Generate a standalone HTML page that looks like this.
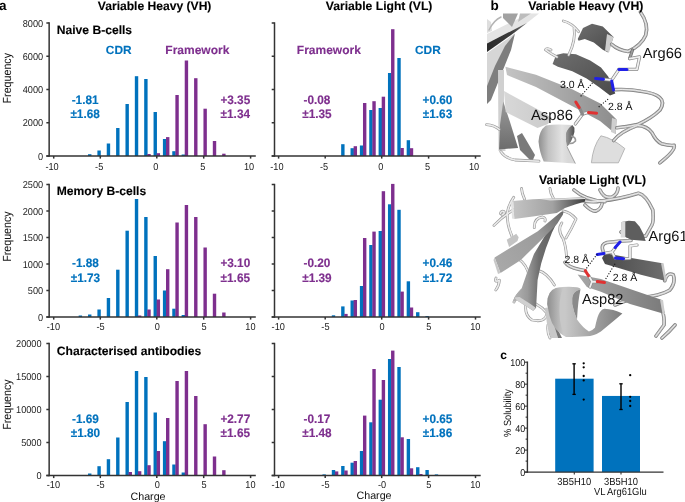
<!DOCTYPE html>
<html><head><meta charset="utf-8"><title>Figure</title>
<style>html,body{margin:0;padding:0;background:#fff;width:685px;height:502px;overflow:hidden}
svg text{font-family:"Liberation Sans", sans-serif;text-rendering:geometricPrecision} svg{will-change:transform}</style></head>
<body>
<svg width="685" height="502" viewBox="0 0 685 502" style="position:absolute;left:0;top:0">
<g font-family='"Liberation Sans", sans-serif'>
<rect x="88.03" y="154.20" width="3.40" height="1.80" fill="#0072BD"/>
<rect x="97.39" y="150.50" width="3.40" height="5.50" fill="#0072BD"/>
<rect x="106.75" y="143.50" width="3.40" height="12.50" fill="#0072BD"/>
<rect x="116.11" y="128.00" width="3.40" height="28.00" fill="#0072BD"/>
<rect x="125.47" y="104.00" width="3.40" height="52.00" fill="#0072BD"/>
<rect x="134.83" y="76.20" width="3.40" height="79.80" fill="#0072BD"/>
<rect x="144.19" y="79.00" width="3.40" height="77.00" fill="#0072BD"/>
<rect x="153.55" y="112.00" width="3.40" height="44.00" fill="#0072BD"/>
<rect x="162.91" y="139.00" width="3.40" height="17.00" fill="#0072BD"/>
<rect x="172.27" y="151.20" width="3.40" height="4.80" fill="#0072BD"/>
<rect x="181.63" y="154.50" width="3.40" height="1.50" fill="#0072BD"/>
<rect x="147.29" y="154.00" width="3.40" height="2.00" fill="#7E2F8E"/>
<rect x="156.65" y="153.20" width="3.40" height="2.80" fill="#7E2F8E"/>
<rect x="166.01" y="137.10" width="3.40" height="18.90" fill="#7E2F8E"/>
<rect x="175.37" y="95.00" width="3.40" height="61.00" fill="#7E2F8E"/>
<rect x="184.73" y="60.50" width="3.40" height="95.50" fill="#7E2F8E"/>
<rect x="194.09" y="78.20" width="3.40" height="77.80" fill="#7E2F8E"/>
<rect x="203.45" y="108.70" width="3.40" height="47.30" fill="#7E2F8E"/>
<rect x="212.81" y="141.00" width="3.40" height="15.00" fill="#7E2F8E"/>
<rect x="222.17" y="153.70" width="3.40" height="2.30" fill="#7E2F8E"/>
<line x1="46.35" y1="156.0" x2="255.8" y2="156.0" stroke="#333333" stroke-width="1.5"/>
<line x1="49.15" y1="22.3" x2="49.15" y2="156.75" stroke="#333333" stroke-width="1.5"/>
<line x1="46.35" y1="156.0" x2="49.15" y2="156.0" stroke="#333333" stroke-width="1.5"/>
<text transform="translate(43.2,159.7) scale(1,1.08)" font-size="9.2" font-weight="normal" fill="#222" text-anchor="end" >0</text>
<line x1="46.35" y1="122.75" x2="49.15" y2="122.75" stroke="#333333" stroke-width="1.5"/>
<text transform="translate(43.2,126.45) scale(1,1.08)" font-size="9.2" font-weight="normal" fill="#222" text-anchor="end" >2000</text>
<line x1="46.35" y1="89.5" x2="49.15" y2="89.5" stroke="#333333" stroke-width="1.5"/>
<text transform="translate(43.2,93.2) scale(1,1.08)" font-size="9.2" font-weight="normal" fill="#222" text-anchor="end" >4000</text>
<line x1="46.35" y1="56.25" x2="49.15" y2="56.25" stroke="#333333" stroke-width="1.5"/>
<text transform="translate(43.2,59.95) scale(1,1.08)" font-size="9.2" font-weight="normal" fill="#222" text-anchor="end" >6000</text>
<line x1="46.35" y1="23.0" x2="49.15" y2="23.0" stroke="#333333" stroke-width="1.5"/>
<text transform="translate(43.2,26.7) scale(1,1.08)" font-size="9.2" font-weight="normal" fill="#222" text-anchor="end" >8000</text>
<line x1="53.7" y1="156.0" x2="53.7" y2="158.6" stroke="#333333" stroke-width="1.5"/>
<text transform="translate(52.05,169.5) scale(1,1.09)" font-size="9.2" font-weight="normal" fill="#222" text-anchor="middle" >-10</text>
<line x1="100.3" y1="156.0" x2="100.3" y2="158.6" stroke="#333333" stroke-width="1.5"/>
<text transform="translate(99.2,169.5) scale(1,1.09)" font-size="9.2" font-weight="normal" fill="#222" text-anchor="middle" >-5</text>
<line x1="156.8" y1="156.0" x2="156.8" y2="158.6" stroke="#333333" stroke-width="1.5"/>
<text transform="translate(155.9,169.5) scale(1,1.09)" font-size="9.2" font-weight="normal" fill="#222" text-anchor="middle" >0</text>
<line x1="203.7" y1="156.0" x2="203.7" y2="158.6" stroke="#333333" stroke-width="1.5"/>
<text transform="translate(202.7,169.5) scale(1,1.09)" font-size="9.2" font-weight="normal" fill="#222" text-anchor="middle" >5</text>
<line x1="250.6" y1="156.0" x2="250.6" y2="158.6" stroke="#333333" stroke-width="1.5"/>
<text transform="translate(249.1,169.5) scale(1,1.09)" font-size="9.2" font-weight="normal" fill="#222" text-anchor="middle" >10</text>
<text transform="translate(85.1,103.9) scale(1,1.04)" font-size="11.8" font-weight="bold" fill="#0072BD" text-anchor="middle" stroke="#0072BD" stroke-width="0.15">-1.81</text>
<text transform="translate(85.1,118.0) scale(1,1.04)" font-size="11.8" font-weight="bold" fill="#0072BD" text-anchor="middle" stroke="#0072BD" stroke-width="0.15">±1.68</text>
<text transform="translate(235.3,103.9) scale(1,1.04)" font-size="11.8" font-weight="bold" fill="#7E2F8E" text-anchor="middle" stroke="#7E2F8E" stroke-width="0.15">+3.35</text>
<text transform="translate(235.3,118.0) scale(1,1.04)" font-size="11.8" font-weight="bold" fill="#7E2F8E" text-anchor="middle" stroke="#7E2F8E" stroke-width="0.15">±1.34</text>
<rect x="341.16" y="144.20" width="3.40" height="11.80" fill="#0072BD"/>
<rect x="350.52" y="148.20" width="3.40" height="7.80" fill="#0072BD"/>
<rect x="359.88" y="145.50" width="3.40" height="10.50" fill="#0072BD"/>
<rect x="369.24" y="110.00" width="3.40" height="46.00" fill="#0072BD"/>
<rect x="378.60" y="108.00" width="3.40" height="48.00" fill="#0072BD"/>
<rect x="387.96" y="73.00" width="3.40" height="83.00" fill="#0072BD"/>
<rect x="397.32" y="58.00" width="3.40" height="98.00" fill="#0072BD"/>
<rect x="406.68" y="140.20" width="3.40" height="15.80" fill="#0072BD"/>
<rect x="353.62" y="146.20" width="3.40" height="9.80" fill="#7E2F8E"/>
<rect x="362.98" y="103.00" width="3.40" height="53.00" fill="#7E2F8E"/>
<rect x="372.34" y="101.20" width="3.40" height="54.80" fill="#7E2F8E"/>
<rect x="381.70" y="96.70" width="3.40" height="59.30" fill="#7E2F8E"/>
<rect x="391.06" y="29.20" width="3.40" height="126.80" fill="#7E2F8E"/>
<rect x="400.42" y="148.00" width="3.40" height="8.00" fill="#7E2F8E"/>
<rect x="409.78" y="148.20" width="3.40" height="7.80" fill="#7E2F8E"/>
<line x1="271.7" y1="156.0" x2="480.70000000000005" y2="156.0" stroke="#333333" stroke-width="1.5"/>
<line x1="274.5" y1="22.3" x2="274.5" y2="156.75" stroke="#333333" stroke-width="1.5"/>
<line x1="271.7" y1="156.0" x2="274.5" y2="156.0" stroke="#333333" stroke-width="1.5"/>
<line x1="271.7" y1="122.75" x2="274.5" y2="122.75" stroke="#333333" stroke-width="1.5"/>
<line x1="271.7" y1="89.5" x2="274.5" y2="89.5" stroke="#333333" stroke-width="1.5"/>
<line x1="271.7" y1="56.25" x2="274.5" y2="56.25" stroke="#333333" stroke-width="1.5"/>
<line x1="271.7" y1="23.0" x2="274.5" y2="23.0" stroke="#333333" stroke-width="1.5"/>
<line x1="278.6" y1="156.0" x2="278.6" y2="158.6" stroke="#333333" stroke-width="1.5"/>
<text transform="translate(276.95,169.5) scale(1,1.09)" font-size="9.2" font-weight="normal" fill="#222" text-anchor="middle" >-10</text>
<line x1="325.2" y1="156.0" x2="325.2" y2="158.6" stroke="#333333" stroke-width="1.5"/>
<text transform="translate(324.1,169.5) scale(1,1.09)" font-size="9.2" font-weight="normal" fill="#222" text-anchor="middle" >-5</text>
<line x1="381.70000000000005" y1="156.0" x2="381.70000000000005" y2="158.6" stroke="#333333" stroke-width="1.5"/>
<text transform="translate(380.8,169.5) scale(1,1.09)" font-size="9.2" font-weight="normal" fill="#222" text-anchor="middle" >0</text>
<line x1="428.6" y1="156.0" x2="428.6" y2="158.6" stroke="#333333" stroke-width="1.5"/>
<text transform="translate(427.6,169.5) scale(1,1.09)" font-size="9.2" font-weight="normal" fill="#222" text-anchor="middle" >5</text>
<line x1="475.5" y1="156.0" x2="475.5" y2="158.6" stroke="#333333" stroke-width="1.5"/>
<text transform="translate(474.0,169.5) scale(1,1.09)" font-size="9.2" font-weight="normal" fill="#222" text-anchor="middle" >10</text>
<text transform="translate(316.9,103.9) scale(1,1.04)" font-size="11.8" font-weight="bold" fill="#7E2F8E" text-anchor="middle" stroke="#7E2F8E" stroke-width="0.15">-0.08</text>
<text transform="translate(316.9,118.0) scale(1,1.04)" font-size="11.8" font-weight="bold" fill="#7E2F8E" text-anchor="middle" stroke="#7E2F8E" stroke-width="0.15">±1.35</text>
<text transform="translate(437.5,103.9) scale(1,1.04)" font-size="11.8" font-weight="bold" fill="#0072BD" text-anchor="middle" stroke="#0072BD" stroke-width="0.15">+0.60</text>
<text transform="translate(437.5,118.0) scale(1,1.04)" font-size="11.8" font-weight="bold" fill="#0072BD" text-anchor="middle" stroke="#0072BD" stroke-width="0.15">±1.63</text>
<text x="56.8" y="33.5" font-size="12.1" font-weight="bold" fill="#000" text-anchor="start" stroke="#000" stroke-width="0.12">Naive B-cells</text>
<text transform="translate(11.4,78.2) rotate(-90) scale(1,1.1)" font-size="10.7" font-weight="normal" fill="#111" text-anchor="middle" >Frequency</text>
<rect x="78.67" y="315.50" width="3.40" height="1.50" fill="#0072BD"/>
<rect x="88.03" y="314.50" width="3.40" height="2.50" fill="#0072BD"/>
<rect x="97.39" y="309.50" width="3.40" height="7.50" fill="#0072BD"/>
<rect x="106.75" y="298.00" width="3.40" height="19.00" fill="#0072BD"/>
<rect x="116.11" y="269.70" width="3.40" height="47.30" fill="#0072BD"/>
<rect x="125.47" y="230.70" width="3.40" height="86.30" fill="#0072BD"/>
<rect x="134.83" y="199.00" width="3.40" height="118.00" fill="#0072BD"/>
<rect x="144.19" y="217.00" width="3.40" height="100.00" fill="#0072BD"/>
<rect x="153.55" y="256.00" width="3.40" height="61.00" fill="#0072BD"/>
<rect x="162.91" y="290.50" width="3.40" height="26.50" fill="#0072BD"/>
<rect x="172.27" y="308.70" width="3.40" height="8.30" fill="#0072BD"/>
<rect x="181.63" y="315.00" width="3.40" height="2.00" fill="#0072BD"/>
<rect x="137.93" y="315.50" width="3.40" height="1.50" fill="#7E2F8E"/>
<rect x="147.29" y="309.50" width="3.40" height="7.50" fill="#7E2F8E"/>
<rect x="156.65" y="299.50" width="3.40" height="17.50" fill="#7E2F8E"/>
<rect x="166.01" y="269.20" width="3.40" height="47.80" fill="#7E2F8E"/>
<rect x="175.37" y="222.50" width="3.40" height="94.50" fill="#7E2F8E"/>
<rect x="184.73" y="205.00" width="3.40" height="112.00" fill="#7E2F8E"/>
<rect x="194.09" y="217.00" width="3.40" height="100.00" fill="#7E2F8E"/>
<rect x="203.45" y="247.50" width="3.40" height="69.50" fill="#7E2F8E"/>
<rect x="212.81" y="293.70" width="3.40" height="23.30" fill="#7E2F8E"/>
<rect x="222.17" y="312.50" width="3.40" height="4.50" fill="#7E2F8E"/>
<line x1="46.35" y1="317.0" x2="255.8" y2="317.0" stroke="#333333" stroke-width="1.5"/>
<line x1="49.15" y1="183.8" x2="49.15" y2="317.75" stroke="#333333" stroke-width="1.5"/>
<line x1="46.35" y1="317.0" x2="49.15" y2="317.0" stroke="#333333" stroke-width="1.5"/>
<text transform="translate(43.2,320.7) scale(1,1.08)" font-size="9.2" font-weight="normal" fill="#222" text-anchor="end" >0</text>
<line x1="46.35" y1="290.5" x2="49.15" y2="290.5" stroke="#333333" stroke-width="1.5"/>
<text transform="translate(43.2,294.2) scale(1,1.08)" font-size="9.2" font-weight="normal" fill="#222" text-anchor="end" >500</text>
<line x1="46.35" y1="264.0" x2="49.15" y2="264.0" stroke="#333333" stroke-width="1.5"/>
<text transform="translate(43.2,267.7) scale(1,1.08)" font-size="9.2" font-weight="normal" fill="#222" text-anchor="end" >1000</text>
<line x1="46.35" y1="237.5" x2="49.15" y2="237.5" stroke="#333333" stroke-width="1.5"/>
<text transform="translate(43.2,241.2) scale(1,1.08)" font-size="9.2" font-weight="normal" fill="#222" text-anchor="end" >1500</text>
<line x1="46.35" y1="211.0" x2="49.15" y2="211.0" stroke="#333333" stroke-width="1.5"/>
<text transform="translate(43.2,214.7) scale(1,1.08)" font-size="9.2" font-weight="normal" fill="#222" text-anchor="end" >2000</text>
<line x1="46.35" y1="184.5" x2="49.15" y2="184.5" stroke="#333333" stroke-width="1.5"/>
<text transform="translate(43.2,188.2) scale(1,1.08)" font-size="9.2" font-weight="normal" fill="#222" text-anchor="end" >2500</text>
<line x1="53.7" y1="317.0" x2="53.7" y2="319.6" stroke="#333333" stroke-width="1.5"/>
<text transform="translate(53.35,329.6) scale(1,1.09)" font-size="9.2" font-weight="normal" fill="#222" text-anchor="middle" >-10</text>
<line x1="100.3" y1="317.0" x2="100.3" y2="319.6" stroke="#333333" stroke-width="1.5"/>
<text transform="translate(100.5,329.6) scale(1,1.09)" font-size="9.2" font-weight="normal" fill="#222" text-anchor="middle" >-5</text>
<line x1="156.8" y1="317.0" x2="156.8" y2="319.6" stroke="#333333" stroke-width="1.5"/>
<text transform="translate(157.2,329.6) scale(1,1.09)" font-size="9.2" font-weight="normal" fill="#222" text-anchor="middle" >0</text>
<line x1="203.7" y1="317.0" x2="203.7" y2="319.6" stroke="#333333" stroke-width="1.5"/>
<text transform="translate(204.0,329.6) scale(1,1.09)" font-size="9.2" font-weight="normal" fill="#222" text-anchor="middle" >5</text>
<line x1="250.6" y1="317.0" x2="250.6" y2="319.6" stroke="#333333" stroke-width="1.5"/>
<text transform="translate(250.4,329.6) scale(1,1.09)" font-size="9.2" font-weight="normal" fill="#222" text-anchor="middle" >10</text>
<text transform="translate(85.4,267.3) scale(1,1.04)" font-size="11.8" font-weight="bold" fill="#0072BD" text-anchor="middle" stroke="#0072BD" stroke-width="0.15">-1.88</text>
<text transform="translate(85.4,281.7) scale(1,1.04)" font-size="11.8" font-weight="bold" fill="#0072BD" text-anchor="middle" stroke="#0072BD" stroke-width="0.15">±1.73</text>
<text transform="translate(235.3,267.3) scale(1,1.04)" font-size="11.8" font-weight="bold" fill="#7E2F8E" text-anchor="middle" stroke="#7E2F8E" stroke-width="0.15">+3.10</text>
<text transform="translate(235.3,281.7) scale(1,1.04)" font-size="11.8" font-weight="bold" fill="#7E2F8E" text-anchor="middle" stroke="#7E2F8E" stroke-width="0.15">±1.65</text>
<rect x="331.80" y="315.30" width="3.40" height="1.70" fill="#0072BD"/>
<rect x="341.16" y="306.40" width="3.40" height="10.60" fill="#0072BD"/>
<rect x="350.52" y="300.50" width="3.40" height="16.50" fill="#0072BD"/>
<rect x="359.88" y="286.00" width="3.40" height="31.00" fill="#0072BD"/>
<rect x="369.24" y="245.00" width="3.40" height="72.00" fill="#0072BD"/>
<rect x="378.60" y="231.00" width="3.40" height="86.00" fill="#0072BD"/>
<rect x="387.96" y="204.30" width="3.40" height="112.70" fill="#0072BD"/>
<rect x="397.32" y="209.80" width="3.40" height="107.20" fill="#0072BD"/>
<rect x="406.68" y="281.30" width="3.40" height="35.70" fill="#0072BD"/>
<rect x="416.04" y="312.20" width="3.40" height="4.80" fill="#0072BD"/>
<rect x="425.40" y="316.00" width="3.40" height="1.00" fill="#0072BD"/>
<rect x="344.26" y="313.90" width="3.40" height="3.10" fill="#7E2F8E"/>
<rect x="353.62" y="300.00" width="3.40" height="17.00" fill="#7E2F8E"/>
<rect x="362.98" y="238.00" width="3.40" height="79.00" fill="#7E2F8E"/>
<rect x="372.34" y="231.60" width="3.40" height="85.40" fill="#7E2F8E"/>
<rect x="381.70" y="191.20" width="3.40" height="125.80" fill="#7E2F8E"/>
<rect x="391.06" y="183.90" width="3.40" height="133.10" fill="#7E2F8E"/>
<rect x="400.42" y="291.60" width="3.40" height="25.40" fill="#7E2F8E"/>
<rect x="409.78" y="307.50" width="3.40" height="9.50" fill="#7E2F8E"/>
<line x1="271.7" y1="317.0" x2="480.70000000000005" y2="317.0" stroke="#333333" stroke-width="1.5"/>
<line x1="274.5" y1="183.8" x2="274.5" y2="317.75" stroke="#333333" stroke-width="1.5"/>
<line x1="271.7" y1="317.0" x2="274.5" y2="317.0" stroke="#333333" stroke-width="1.5"/>
<line x1="271.7" y1="290.5" x2="274.5" y2="290.5" stroke="#333333" stroke-width="1.5"/>
<line x1="271.7" y1="264.0" x2="274.5" y2="264.0" stroke="#333333" stroke-width="1.5"/>
<line x1="271.7" y1="237.5" x2="274.5" y2="237.5" stroke="#333333" stroke-width="1.5"/>
<line x1="271.7" y1="211.0" x2="274.5" y2="211.0" stroke="#333333" stroke-width="1.5"/>
<line x1="271.7" y1="184.5" x2="274.5" y2="184.5" stroke="#333333" stroke-width="1.5"/>
<line x1="278.6" y1="317.0" x2="278.6" y2="319.6" stroke="#333333" stroke-width="1.5"/>
<text transform="translate(278.25,329.6) scale(1,1.09)" font-size="9.2" font-weight="normal" fill="#222" text-anchor="middle" >-10</text>
<line x1="325.2" y1="317.0" x2="325.2" y2="319.6" stroke="#333333" stroke-width="1.5"/>
<text transform="translate(325.4,329.6) scale(1,1.09)" font-size="9.2" font-weight="normal" fill="#222" text-anchor="middle" >-5</text>
<line x1="381.70000000000005" y1="317.0" x2="381.70000000000005" y2="319.6" stroke="#333333" stroke-width="1.5"/>
<text transform="translate(382.1,329.6) scale(1,1.09)" font-size="9.2" font-weight="normal" fill="#222" text-anchor="middle" >0</text>
<line x1="428.6" y1="317.0" x2="428.6" y2="319.6" stroke="#333333" stroke-width="1.5"/>
<text transform="translate(428.9,329.6) scale(1,1.09)" font-size="9.2" font-weight="normal" fill="#222" text-anchor="middle" >5</text>
<line x1="475.5" y1="317.0" x2="475.5" y2="319.6" stroke="#333333" stroke-width="1.5"/>
<text transform="translate(475.3,329.6) scale(1,1.09)" font-size="9.2" font-weight="normal" fill="#222" text-anchor="middle" >10</text>
<text transform="translate(316.9,267.3) scale(1,1.04)" font-size="11.8" font-weight="bold" fill="#7E2F8E" text-anchor="middle" stroke="#7E2F8E" stroke-width="0.15">-0.20</text>
<text transform="translate(316.9,281.7) scale(1,1.04)" font-size="11.8" font-weight="bold" fill="#7E2F8E" text-anchor="middle" stroke="#7E2F8E" stroke-width="0.15">±1.39</text>
<text transform="translate(437.5,267.3) scale(1,1.04)" font-size="11.8" font-weight="bold" fill="#0072BD" text-anchor="middle" stroke="#0072BD" stroke-width="0.15">+0.46</text>
<text transform="translate(437.5,281.7) scale(1,1.04)" font-size="11.8" font-weight="bold" fill="#0072BD" text-anchor="middle" stroke="#0072BD" stroke-width="0.15">±1.72</text>
<text x="56.8" y="194.7" font-size="12.1" font-weight="bold" fill="#000" text-anchor="start" stroke="#000" stroke-width="0.12">Memory B-cells</text>
<text transform="translate(11.4,236.6) rotate(-90) scale(1,1.1)" font-size="10.7" font-weight="normal" fill="#111" text-anchor="middle" >Frequency</text>
<rect x="88.03" y="473.50" width="3.40" height="2.00" fill="#0072BD"/>
<rect x="97.39" y="466.20" width="3.40" height="9.30" fill="#0072BD"/>
<rect x="106.75" y="459.20" width="3.40" height="16.30" fill="#0072BD"/>
<rect x="116.11" y="437.50" width="3.40" height="38.00" fill="#0072BD"/>
<rect x="125.47" y="402.00" width="3.40" height="73.50" fill="#0072BD"/>
<rect x="134.83" y="371.00" width="3.40" height="104.50" fill="#0072BD"/>
<rect x="144.19" y="377.00" width="3.40" height="98.50" fill="#0072BD"/>
<rect x="153.55" y="412.50" width="3.40" height="63.00" fill="#0072BD"/>
<rect x="162.91" y="441.20" width="3.40" height="34.30" fill="#0072BD"/>
<rect x="172.27" y="464.50" width="3.40" height="11.00" fill="#0072BD"/>
<rect x="181.63" y="472.50" width="3.40" height="3.00" fill="#0072BD"/>
<rect x="128.57" y="472.00" width="3.40" height="3.50" fill="#7E2F8E"/>
<rect x="137.93" y="471.20" width="3.40" height="4.30" fill="#7E2F8E"/>
<rect x="147.29" y="465.20" width="3.40" height="10.30" fill="#7E2F8E"/>
<rect x="156.65" y="451.00" width="3.40" height="24.50" fill="#7E2F8E"/>
<rect x="166.01" y="418.00" width="3.40" height="57.50" fill="#7E2F8E"/>
<rect x="175.37" y="381.00" width="3.40" height="94.50" fill="#7E2F8E"/>
<rect x="184.73" y="371.00" width="3.40" height="104.50" fill="#7E2F8E"/>
<rect x="194.09" y="396.00" width="3.40" height="79.50" fill="#7E2F8E"/>
<rect x="203.45" y="424.20" width="3.40" height="51.30" fill="#7E2F8E"/>
<rect x="212.81" y="456.50" width="3.40" height="19.00" fill="#7E2F8E"/>
<rect x="222.17" y="470.20" width="3.40" height="5.30" fill="#7E2F8E"/>
<line x1="46.35" y1="475.5" x2="255.8" y2="475.5" stroke="#333333" stroke-width="1.5"/>
<line x1="49.15" y1="342.8" x2="49.15" y2="476.25" stroke="#333333" stroke-width="1.5"/>
<line x1="46.35" y1="475.5" x2="49.15" y2="475.5" stroke="#333333" stroke-width="1.5"/>
<text transform="translate(41.6,479.2) scale(1,1.08)" font-size="9.2" font-weight="normal" fill="#222" text-anchor="end" >0</text>
<line x1="46.35" y1="442.5" x2="49.15" y2="442.5" stroke="#333333" stroke-width="1.5"/>
<text transform="translate(41.6,446.2) scale(1,1.08)" font-size="9.2" font-weight="normal" fill="#222" text-anchor="end" >5000</text>
<line x1="46.35" y1="409.5" x2="49.15" y2="409.5" stroke="#333333" stroke-width="1.5"/>
<text transform="translate(41.6,413.2) scale(1,1.08)" font-size="9.2" font-weight="normal" fill="#222" text-anchor="end" >10000</text>
<line x1="46.35" y1="376.5" x2="49.15" y2="376.5" stroke="#333333" stroke-width="1.5"/>
<text transform="translate(41.6,380.2) scale(1,1.08)" font-size="9.2" font-weight="normal" fill="#222" text-anchor="end" >15000</text>
<line x1="46.35" y1="343.5" x2="49.15" y2="343.5" stroke="#333333" stroke-width="1.5"/>
<text transform="translate(41.6,347.2) scale(1,1.08)" font-size="9.2" font-weight="normal" fill="#222" text-anchor="end" >20000</text>
<line x1="53.7" y1="475.5" x2="53.7" y2="478.1" stroke="#333333" stroke-width="1.5"/>
<text transform="translate(53.35,488.0) scale(1,1.09)" font-size="9.2" font-weight="normal" fill="#222" text-anchor="middle" >-10</text>
<line x1="100.3" y1="475.5" x2="100.3" y2="478.1" stroke="#333333" stroke-width="1.5"/>
<text transform="translate(100.5,488.0) scale(1,1.09)" font-size="9.2" font-weight="normal" fill="#222" text-anchor="middle" >-5</text>
<line x1="156.8" y1="475.5" x2="156.8" y2="478.1" stroke="#333333" stroke-width="1.5"/>
<text transform="translate(157.2,488.0) scale(1,1.09)" font-size="9.2" font-weight="normal" fill="#222" text-anchor="middle" >0</text>
<line x1="203.7" y1="475.5" x2="203.7" y2="478.1" stroke="#333333" stroke-width="1.5"/>
<text transform="translate(204.0,488.0) scale(1,1.09)" font-size="9.2" font-weight="normal" fill="#222" text-anchor="middle" >5</text>
<line x1="250.6" y1="475.5" x2="250.6" y2="478.1" stroke="#333333" stroke-width="1.5"/>
<text transform="translate(250.4,488.0) scale(1,1.09)" font-size="9.2" font-weight="normal" fill="#222" text-anchor="middle" >10</text>
<text transform="translate(85.4,422.7) scale(1,1.04)" font-size="11.8" font-weight="bold" fill="#0072BD" text-anchor="middle" stroke="#0072BD" stroke-width="0.15">-1.69</text>
<text transform="translate(85.4,436.8) scale(1,1.04)" font-size="11.8" font-weight="bold" fill="#0072BD" text-anchor="middle" stroke="#0072BD" stroke-width="0.15">±1.80</text>
<text transform="translate(235.3,422.7) scale(1,1.04)" font-size="11.8" font-weight="bold" fill="#7E2F8E" text-anchor="middle" stroke="#7E2F8E" stroke-width="0.15">+2.77</text>
<text transform="translate(235.3,436.8) scale(1,1.04)" font-size="11.8" font-weight="bold" fill="#7E2F8E" text-anchor="middle" stroke="#7E2F8E" stroke-width="0.15">±1.65</text>
<rect x="322.44" y="474.40" width="3.40" height="1.10" fill="#0072BD"/>
<rect x="331.80" y="470.00" width="3.40" height="5.50" fill="#0072BD"/>
<rect x="341.16" y="466.00" width="3.40" height="9.50" fill="#0072BD"/>
<rect x="350.52" y="462.70" width="3.40" height="12.80" fill="#0072BD"/>
<rect x="359.88" y="451.00" width="3.40" height="24.50" fill="#0072BD"/>
<rect x="369.24" y="422.30" width="3.40" height="53.20" fill="#0072BD"/>
<rect x="378.60" y="399.70" width="3.40" height="75.80" fill="#0072BD"/>
<rect x="387.96" y="359.00" width="3.40" height="116.50" fill="#0072BD"/>
<rect x="397.32" y="367.00" width="3.40" height="108.50" fill="#0072BD"/>
<rect x="406.68" y="439.00" width="3.40" height="36.50" fill="#0072BD"/>
<rect x="416.04" y="467.20" width="3.40" height="8.30" fill="#0072BD"/>
<rect x="425.40" y="470.00" width="3.40" height="5.50" fill="#0072BD"/>
<rect x="434.76" y="474.40" width="3.40" height="1.10" fill="#0072BD"/>
<rect x="334.90" y="471.40" width="3.40" height="4.10" fill="#7E2F8E"/>
<rect x="344.26" y="470.50" width="3.40" height="5.00" fill="#7E2F8E"/>
<rect x="353.62" y="461.00" width="3.40" height="14.50" fill="#7E2F8E"/>
<rect x="362.98" y="415.60" width="3.40" height="59.90" fill="#7E2F8E"/>
<rect x="372.34" y="369.00" width="3.40" height="106.50" fill="#7E2F8E"/>
<rect x="381.70" y="380.00" width="3.40" height="95.50" fill="#7E2F8E"/>
<rect x="391.06" y="350.60" width="3.40" height="124.90" fill="#7E2F8E"/>
<rect x="400.42" y="437.30" width="3.40" height="38.20" fill="#7E2F8E"/>
<rect x="409.78" y="468.30" width="3.40" height="7.20" fill="#7E2F8E"/>
<rect x="419.14" y="474.00" width="3.40" height="1.50" fill="#7E2F8E"/>
<line x1="271.7" y1="475.5" x2="480.70000000000005" y2="475.5" stroke="#333333" stroke-width="1.5"/>
<line x1="274.5" y1="342.8" x2="274.5" y2="476.25" stroke="#333333" stroke-width="1.5"/>
<line x1="271.7" y1="475.5" x2="274.5" y2="475.5" stroke="#333333" stroke-width="1.5"/>
<line x1="271.7" y1="442.5" x2="274.5" y2="442.5" stroke="#333333" stroke-width="1.5"/>
<line x1="271.7" y1="409.5" x2="274.5" y2="409.5" stroke="#333333" stroke-width="1.5"/>
<line x1="271.7" y1="376.5" x2="274.5" y2="376.5" stroke="#333333" stroke-width="1.5"/>
<line x1="271.7" y1="343.5" x2="274.5" y2="343.5" stroke="#333333" stroke-width="1.5"/>
<line x1="278.6" y1="475.5" x2="278.6" y2="478.1" stroke="#333333" stroke-width="1.5"/>
<text transform="translate(278.25,488.0) scale(1,1.09)" font-size="9.2" font-weight="normal" fill="#222" text-anchor="middle" >-10</text>
<line x1="325.2" y1="475.5" x2="325.2" y2="478.1" stroke="#333333" stroke-width="1.5"/>
<text transform="translate(325.4,488.0) scale(1,1.09)" font-size="9.2" font-weight="normal" fill="#222" text-anchor="middle" >-5</text>
<line x1="381.70000000000005" y1="475.5" x2="381.70000000000005" y2="478.1" stroke="#333333" stroke-width="1.5"/>
<text transform="translate(382.1,488.0) scale(1,1.09)" font-size="9.2" font-weight="normal" fill="#222" text-anchor="middle" >-0</text>
<line x1="428.6" y1="475.5" x2="428.6" y2="478.1" stroke="#333333" stroke-width="1.5"/>
<text transform="translate(428.9,488.0) scale(1,1.09)" font-size="9.2" font-weight="normal" fill="#222" text-anchor="middle" >5</text>
<line x1="475.5" y1="475.5" x2="475.5" y2="478.1" stroke="#333333" stroke-width="1.5"/>
<text transform="translate(475.3,488.0) scale(1,1.09)" font-size="9.2" font-weight="normal" fill="#222" text-anchor="middle" >10</text>
<text transform="translate(316.9,422.7) scale(1,1.04)" font-size="11.8" font-weight="bold" fill="#7E2F8E" text-anchor="middle" stroke="#7E2F8E" stroke-width="0.15">-0.17</text>
<text transform="translate(316.9,436.8) scale(1,1.04)" font-size="11.8" font-weight="bold" fill="#7E2F8E" text-anchor="middle" stroke="#7E2F8E" stroke-width="0.15">±1.48</text>
<text transform="translate(437.5,422.7) scale(1,1.04)" font-size="11.8" font-weight="bold" fill="#0072BD" text-anchor="middle" stroke="#0072BD" stroke-width="0.15">+0.65</text>
<text transform="translate(437.5,436.8) scale(1,1.04)" font-size="11.8" font-weight="bold" fill="#0072BD" text-anchor="middle" stroke="#0072BD" stroke-width="0.15">±1.86</text>
<text x="56.8" y="354.5" font-size="12.1" font-weight="bold" fill="#000" text-anchor="start" stroke="#000" stroke-width="0.12">Characterised antibodies</text>
<text transform="translate(11.4,404.6) rotate(-90) scale(1,1.1)" font-size="10.7" font-weight="normal" fill="#111" text-anchor="middle" >Frequency</text>
<text x="105.8" y="53.5" font-size="11.9" font-weight="bold" fill="#0072BD" text-anchor="start" stroke="#0072BD" stroke-width="0.12">CDR</text>
<text x="165.3" y="53.5" font-size="12.0" font-weight="bold" fill="#7E2F8E" text-anchor="start" stroke="#7E2F8E" stroke-width="0.12">Framework</text>
<text x="415.0" y="53.5" font-size="11.9" font-weight="bold" fill="#0072BD" text-anchor="start" stroke="#0072BD" stroke-width="0.12">CDR</text>
<text x="296.8" y="53.5" font-size="12.0" font-weight="bold" fill="#7E2F8E" text-anchor="start" stroke="#7E2F8E" stroke-width="0.12">Framework</text>
<text x="148.0" y="499.6" font-size="10.7" font-weight="normal" fill="#111" text-anchor="middle" >Charge</text>
<text x="374.0" y="499.1" font-size="10.7" font-weight="normal" fill="#111" text-anchor="middle" >Charge</text>
<defs>
<linearGradient id="gBig" x1="0" y1="0" x2="1" y2="0"><stop offset="0" stop-color="#c4c4c4"/><stop offset="0.5" stop-color="#a8a8a8"/><stop offset="1" stop-color="#8c8c8c"/></linearGradient>
<linearGradient id="gDark" x1="0" y1="0" x2="1" y2="1"><stop offset="0" stop-color="#6e6e6e"/><stop offset="1" stop-color="#4a4a4a"/></linearGradient>
<linearGradient id="gHelix" x1="0" y1="0" x2="1" y2="0"><stop offset="0" stop-color="#a0a0a0"/><stop offset="0.35" stop-color="#dcdcdc"/><stop offset="0.8" stop-color="#bdbdbd"/><stop offset="1" stop-color="#8a8a8a"/></linearGradient>
<linearGradient id="gLight" x1="0" y1="0" x2="1" y2="0"><stop offset="0" stop-color="#d8d8d8"/><stop offset="1" stop-color="#cacaca"/></linearGradient>
</defs>
<g id="vh">
<!-- left cluster -->
<polygon points="487,34 520,18 531,13.6 539,13.6 527.2,22.8 487,43.4" fill="#e4e4e4"/>
<polygon points="487,19 491,22 492,31 487,33" fill="#dedede"/>
<polygon points="503,13.6 518,13.6 512,27 507,22 503,18" fill="#a2a2a2"/>
<polygon points="520,13.6 531,13.6 521,20 518,22" fill="#bcbcbc"/>
<linearGradient id="gBand" x1="487" y1="0" x2="527" y2="0" gradientUnits="userSpaceOnUse"><stop offset="0" stop-color="#2c2c2c"/><stop offset="0.6" stop-color="#3a3a3a"/><stop offset="1" stop-color="#777"/></linearGradient>
<polygon points="487,43.4 527.2,22.8 514.6,32.5 487,52" fill="url(#gBand)"/>
<polygon points="487,53.3 514.6,33.6 505,52 496,70 487,86" fill="#d6d6d6"/>
<polygon points="515,33.4 511,50 503,70 491,100 487,104 487,86 495,66 505,46" fill="#7e7e7e"/>
<polygon points="498,70 504,70 504,100 505.5,151 498.5,151" fill="#d0d0d0"/>
<linearGradient id="gTri" x1="0" y1="0" x2="0" y2="1"><stop offset="0" stop-color="#9a9a9a"/><stop offset="1" stop-color="#6c6c6c"/></linearGradient>
<polygon points="503.2,101.6 510,122 518.1,147.9 499.1,149.6 500,125" fill="url(#gTri)"/>
<polygon points="517,136 522,133 535,155 532,162 520,150" fill="#7a7a7a"/>
<!-- big medium strand -->
<polygon points="505.4,66.7 535.9,74.7 571.7,89.1 600.4,103.4 616.6,119.6 615.7,133.9 600,121 572,106 536,87 507,75" fill="url(#gBig)"/>
<polygon points="612,118 616.6,119.6 615.7,133.9 611,132" fill="#cfcfcf"/>
<!-- light strand below -->
<polygon points="504,91 537,109 552,118 548,124 537.5,128 505.7,112" fill="url(#gLight)"/>
<!-- helix bottom -->
<linearGradient id="gHx1" x1="538" y1="0" x2="568" y2="0" gradientUnits="userSpaceOnUse"><stop offset="0" stop-color="#8c8c8c"/><stop offset="0.35" stop-color="#c2c2c2"/><stop offset="0.8" stop-color="#e2e2e2"/><stop offset="1" stop-color="#d8d8d8"/></linearGradient>
<linearGradient id="gHx2" x1="566" y1="0" x2="575" y2="0" gradientUnits="userSpaceOnUse"><stop offset="0" stop-color="#9a9a9a"/><stop offset="1" stop-color="#4a4a4a"/></linearGradient>
<path d="M545.8,125.6 Q552,124.4 559.6,124.5 Q566,124.6 572.3,125 Q566,129 565.9,134 Q565.5,141 567,146.7 Q571,155 575.4,163.6 L543.7,161.5 Q539.5,152 538.5,141.4 Q539,131 545.8,125.6 Z" fill="url(#gHx1)"/>
<path d="M572.3,125 L574.4,127.7 Q575,132 573.3,136.1 Q571.5,141 569.1,144.6 L567,146.7 Q565.5,141 565.9,134 Q566.5,129 572.3,125 Z" fill="url(#gHx2)"/>
<path d="M567,146.7 Q571,155 575.4,163.6" fill="none" stroke="#555" stroke-width="0.5"/>
<path d="M571,136 Q576,137 575.5,141 Q573,144 569,143.5" fill="none" stroke="#999" stroke-width="1.6"/>
<path d="M600.9,135.8 Q612,138 624.8,148.5 L618.4,162.8 L591.4,162.8 Q593,146 600.9,135.8 Z" fill="#dedede" stroke="#aaa" stroke-width="0.8"/>
<!-- dark strands -->
<polygon points="552.6,64 556.1,55 563.3,53.3 575.9,54.2 590.2,60.4 601,67.6 608.2,76.6 611.7,83.7 615.3,93.6 610,95.4 599.2,87.3 586.6,78.4 572.3,71.2 557.9,66.7" fill="url(#gDark)"/>
<polygon points="577.7,38.9 583,28.1 592,23.7 602.8,26.4 611.7,35.3 613.5,37.1 608.2,52.4 602.8,49.7 593.8,42.5 584.8,38.9 578.6,40.7" fill="url(#gDark)"/>
<polygon points="607,34 613.5,37.1 609,52.4 605,50.5" fill="#cdcdcd"/>
<!-- tubes -->
<g fill="none" stroke-linecap="round" stroke-linejoin="round">
<g stroke="#7c7c7c" stroke-width="3.6"><path d="M640.4,12 Q649,24 645.7,35.3 Q641,46 628,51.5 Q618,50 611.7,44.3"/><path d="M615.3,89.6 Q630,89 640.7,91.2 Q655,93 659.8,97.6 Q665,102 660,110 Q652,118 637.5,124.6 Q626,127 616.8,127.8"/><path d="M613.7,140.5 Q620,132 637.5,125.4 Q647,126 651.9,132.6 Q656,141 661.4,143.7 Q670,146 674.2,145.3 Q676,150 659.8,162.8"/></g>
<g stroke="#9a9a9a" stroke-width="2.8"><path d="M563.3,21 Q572,23 578.6,31.7 M574.1,28.1 Q576,40 568.7,55"/><path d="M557,57 Q548,52 545.4,49.7 Q547,47.5 551,50"/><path d="M486.6,124.6 Q494,125 499.3,129.4 M500.9,151.7 Q505,158 515,160 L539,161.2"/></g>
<g stroke="#b4b4b4" stroke-width="1.4"><path d="M489,30 Q494,20 501,17"/></g>
<g stroke="#b8b8b8" stroke-width="2.3"><path d="M640.4,12 Q649,24 645.7,35.3 Q641,46 628,51.5 Q618,50 611.7,44.3"/><path d="M615.3,89.6 Q630,89 640.7,91.2 Q655,93 659.8,97.6 Q665,102 660,110 Q652,118 637.5,124.6 Q626,127 616.8,127.8"/><path d="M613.7,140.5 Q620,132 637.5,125.4 Q647,126 651.9,132.6 Q656,141 661.4,143.7 Q670,146 674.2,145.3 Q676,150 659.8,162.8"/></g>
<g stroke="#d8d8d8" stroke-width="1.6"><path d="M563.3,21 Q572,23 578.6,31.7 M574.1,28.1 Q576,40 568.7,55"/><path d="M557,57 Q548,52 545.4,49.7 Q547,47.5 551,50"/><path d="M486.6,124.6 Q494,125 499.3,129.4 M500.9,151.7 Q505,158 515,160 L539,161.2"/></g>
<g stroke="#f6f6f6" stroke-width="0.8"><path d="M640.4,12 Q649,24 645.7,35.3 Q641,46 628,51.5 Q618,50 611.7,44.3"/><path d="M615.3,89.6 Q630,89 640.7,91.2 Q655,93 659.8,97.6 Q665,102 660,110 Q652,118 637.5,124.6 Q626,127 616.8,127.8"/><path d="M613.7,140.5 Q620,132 637.5,125.4 Q647,126 651.9,132.6 Q656,141 661.4,143.7 Q670,146 674.2,145.3 Q676,150 659.8,162.8"/><path d="M563.3,21 Q572,23 578.6,31.7 M574.1,28.1 Q576,40 568.7,55"/><path d="M557,57 Q548,52 545.4,49.7 Q547,47.5 551,50"/><path d="M486.6,124.6 Q494,125 499.3,129.4 M500.9,151.7 Q505,158 515,160 L539,161.2"/></g>
</g>
<!-- side chains -->
<g fill="none" stroke-linecap="round" stroke-linejoin="round">
<path d="M629.7,58.6 L632.5,50" stroke="#6a6a6a" stroke-width="3.2"/>
<path d="M629.7,58.6 L632.5,50" stroke="#9a9a9a" stroke-width="1.8"/>
<path d="M618.9,69.4 L636.9,69.4 L639.6,56.8 L629.7,58.6" stroke="#8a8a8a" stroke-width="3.2"/>
<path d="M618.9,69.4 L636.9,69.4 L639.6,56.8 L629.7,58.6" stroke="#f0f0f0" stroke-width="1.8"/>
<path d="M604.6,79.3 L611.7,80.2 L618.9,69.4" stroke="#8a8a8a" stroke-width="3.2"/>
<path d="M604.6,79.3 L611.7,80.2 L618.9,69.4" stroke="#f0f0f0" stroke-width="1.8"/>
<path d="M618.9,69.4 L627,69.4 M595.6,78.4 L603.5,79.2 M611.7,81 L613.5,90" stroke="#2020e8" stroke-width="3.0"/>
<path d="M575.3,124 L582.5,114.2 L587.9,112.4" stroke="#8a8a8a" stroke-width="3.2"/>
<path d="M575.3,124 L582.5,114.2 L587.9,112.4" stroke="#f0f0f0" stroke-width="1.8"/>
<path d="M582.5,114.2 L579.5,108" stroke="#8a8a8a" stroke-width="3.2"/>
<path d="M579.2,107.5 L575.8,102 M588.5,112.4 L596.6,113.2" stroke="#e03232" stroke-width="3.0"/>
</g>
<g fill="none" stroke="#111" stroke-width="1.1" stroke-dasharray="1.1,1.7">
<path d="M580.7,96.3 L593.3,81.9"/>
<path d="M598.7,107 L609.4,98"/>
</g>
<g font-family='"Liberation Sans", sans-serif' fill="#111">
<text x="560.1" y="88.3" font-size="10.5">3.0 Å</text>
<text x="608.1" y="109.5" font-size="10.5">2.8 Å</text>
<text x="531.0" y="119.9" font-size="14.8">Asp86</text>
<text x="642.8" y="57.6" font-size="14.7">Arg66</text>
</g>
</g>
<defs>
<linearGradient id="gTop2" x1="513" y1="0" x2="585" y2="0" gradientUnits="userSpaceOnUse"><stop offset="0" stop-color="#c4c4c4"/><stop offset="0.55" stop-color="#a2a2a2"/><stop offset="1" stop-color="#3c3c3c"/></linearGradient>
<linearGradient id="gDiag" x1="495" y1="260" x2="563" y2="212" gradientUnits="userSpaceOnUse"><stop offset="0" stop-color="#a8a8a8"/><stop offset="0.6" stop-color="#9c9c9c"/><stop offset="1" stop-color="#6a6a6a"/></linearGradient>
<linearGradient id="gDk2" x1="0" y1="0" x2="1" y2="0"><stop offset="0" stop-color="#b4b4b4"/><stop offset="0.3" stop-color="#9a9a9a"/><stop offset="0.55" stop-color="#6e6e6e"/><stop offset="1" stop-color="#5a5a5a"/></linearGradient>
<linearGradient id="gArgS" x1="602" y1="0" x2="665" y2="0" gradientUnits="userSpaceOnUse"><stop offset="0" stop-color="#4a4a4a"/><stop offset="1" stop-color="#6e6e6e"/></linearGradient>
<linearGradient id="gAspS" x1="578" y1="0" x2="665" y2="0" gradientUnits="userSpaceOnUse"><stop offset="0" stop-color="#a6a6a6"/><stop offset="1" stop-color="#7a7a7a"/></linearGradient>
<linearGradient id="gHel2" x1="565" y1="0" x2="623" y2="0" gradientUnits="userSpaceOnUse"><stop offset="0" stop-color="#c8c8c8"/><stop offset="0.4" stop-color="#a8a8a8"/><stop offset="1" stop-color="#7c7c7c"/></linearGradient>
<linearGradient id="gHel3" x1="546" y1="0" x2="566" y2="0" gradientUnits="userSpaceOnUse"><stop offset="0" stop-color="#8a8a8a"/><stop offset="1" stop-color="#d2d2d2"/></linearGradient>
</defs>
<g id="vl">
<!-- tubes behind -->
<g fill="none" stroke-linecap="round" stroke-linejoin="round">
<path d="M494,225.4 Q502,217 511.5,211 L514,209.8 M500.5,213.5 Q501,210.5 504,211.5 Q505,214 502,215 M513.7,197.3 Q508,206 507.1,213.5 Q507,225 511.9,236.1 M534.3,227.7 Q534,218 542.6,217 Q546,218 545,221 M561.8,222.9 Q557,230 563,238.5 Q566,246 566.6,257.6 M563,211 Q570,212 576,219 Q572,228 566,238 M521.5,188.5 Q522,194 524.5,199 M550,188.5 Q550.5,194 553.5,198.5 M496,278 Q494,283 499.4,280.2 Q499,286 495.8,290 M519.7,259.9 Q526,264 529.3,275.5 M538.8,270.7 Q547,273 554.4,285 M514,302 Q516,296 522,290 M526,304 Q524,315 532,320 Q545,323 547,314 M536,304 Q542,307 547,313 M548,325 Q547,333 550,338" stroke="#9a9a9a" stroke-width="2.8"/>
<path d="M580,200 Q592,203 601,201 Q620,199 638.5,193.2 Q646,195 652.8,209.9 Q654,222 651.6,225.5 L645.7,236.2 M574,190 Q585,200 605,201.6 M600,190 Q604,199 612,197 Q618,194 618,188 M585,205 Q592,212 596,211 Q601,209 602,204 M565,262.3 Q568,267 579.4,269.5 L585.3,270.7 M664.8,280.7 Q667,272 673.2,274.7 Q676,283 669.6,290.2 Q660,296 640.9,297.4 Q628,299 615,305 M660,305 Q665,315 664,325 L656,336 M675,325 Q670,331 662,338 M621,232 Q626,237 636,238 L645,236 M603,251 Q600.5,244 607,242.5 Q618,241 631,240.5" stroke="#7e7e7e" stroke-width="3.6"/>
<path d="M494,225.4 Q502,217 511.5,211 L514,209.8 M500.5,213.5 Q501,210.5 504,211.5 Q505,214 502,215 M513.7,197.3 Q508,206 507.1,213.5 Q507,225 511.9,236.1 M534.3,227.7 Q534,218 542.6,217 Q546,218 545,221 M561.8,222.9 Q557,230 563,238.5 Q566,246 566.6,257.6 M563,211 Q570,212 576,219 Q572,228 566,238 M521.5,188.5 Q522,194 524.5,199 M550,188.5 Q550.5,194 553.5,198.5 M496,278 Q494,283 499.4,280.2 Q499,286 495.8,290 M519.7,259.9 Q526,264 529.3,275.5 M538.8,270.7 Q547,273 554.4,285 M514,302 Q516,296 522,290 M526,304 Q524,315 532,320 Q545,323 547,314 M536,304 Q542,307 547,313 M548,325 Q547,333 550,338" stroke="#d8d8d8" stroke-width="1.6"/>
<path d="M580,200 Q592,203 601,201 Q620,199 638.5,193.2 Q646,195 652.8,209.9 Q654,222 651.6,225.5 L645.7,236.2 M574,190 Q585,200 605,201.6 M600,190 Q604,199 612,197 Q618,194 618,188 M585,205 Q592,212 596,211 Q601,209 602,204 M565,262.3 Q568,267 579.4,269.5 L585.3,270.7 M664.8,280.7 Q667,272 673.2,274.7 Q676,283 669.6,290.2 Q660,296 640.9,297.4 Q628,299 615,305 M660,305 Q665,315 664,325 L656,336 M675,325 Q670,331 662,338 M621,232 Q626,237 636,238 L645,236 M603,251 Q600.5,244 607,242.5 Q618,241 631,240.5" stroke="#bcbcbc" stroke-width="2.3"/>
<path d="M494,225.4 Q502,217 511.5,211 L514,209.8 M500.5,213.5 Q501,210.5 504,211.5 Q505,214 502,215 M513.7,197.3 Q508,206 507.1,213.5 Q507,225 511.9,236.1 M534.3,227.7 Q534,218 542.6,217 Q546,218 545,221 M561.8,222.9 Q557,230 563,238.5 Q566,246 566.6,257.6 M563,211 Q570,212 576,219 Q572,228 566,238 M521.5,188.5 Q522,194 524.5,199 M550,188.5 Q550.5,194 553.5,198.5 M496,278 Q494,283 499.4,280.2 Q499,286 495.8,290 M519.7,259.9 Q526,264 529.3,275.5 M538.8,270.7 Q547,273 554.4,285 M514,302 Q516,296 522,290 M526,304 Q524,315 532,320 Q545,323 547,314 M536,304 Q542,307 547,313 M548,325 Q547,333 550,338" stroke="#f6f6f6" stroke-width="0.8"/>
<path d="M580,200 Q592,203 601,201 Q620,199 638.5,193.2 Q646,195 652.8,209.9 Q654,222 651.6,225.5 L645.7,236.2 M574,190 Q585,200 605,201.6 M600,190 Q604,199 612,197 Q618,194 618,188 M585,205 Q592,212 596,211 Q601,209 602,204 M565,262.3 Q568,267 579.4,269.5 L585.3,270.7 M664.8,280.7 Q667,272 673.2,274.7 Q676,283 669.6,290.2 Q660,296 640.9,297.4 Q628,299 615,305 M660,305 Q665,315 664,325 L656,336 M675,325 Q670,331 662,338 M621,232 Q626,237 636,238 L645,236 M603,251 Q600.5,244 607,242.5 Q618,241 631,240.5" stroke="#f6f6f6" stroke-width="0.8"/>
</g>
<!-- top strand -->
<polygon points="513.1,201 532.8,199.2 565,198 585.1,197.5 585.1,201.5 575,204.5 565,208 556.8,212.9 532.8,216.5 514.3,218.9" fill="url(#gTop2)"/>
<polygon points="511,201.8 513.1,201 514.3,218.9 512,218.6" fill="#e2e2e2"/>
<polygon points="540,199 585.1,197.5 585.1,199 550,200.6" fill="#dcdcdc"/>
<!-- small light piece -->
<polygon points="506.7,239.7 516.3,233.7 518.7,237.3 517.5,240.9 509.1,246.9" fill="#c4c4c4"/>
<!-- dark strand -->
<polygon points="548.4,230 559.9,216.6 552,232.4 546,248 541.2,263.5 537.6,280 536.8,295 536.1,307.7 533.2,310.7 517.1,300.4 513.5,301.9 514.2,297.5 521.5,288.8 528,270 534,253.9" fill="url(#gDk2)"/>
<polygon points="514.2,297.5 519.5,297 529,303 535.5,307.5 533.2,310.7 517.1,300.4" fill="#d0d0d0"/>
<polygon points="545,308 550,307 553,322 558,338 551,338 547,324" fill="#c8c8c8"/>
<polygon points="553,322 558,338 562,338 556,326" fill="#777"/>
<!-- diagonal strand -->
<polygon points="494.6,257.5 513.9,245.7 537.8,231.3 560.6,212.2 563.5,211.3 563,214.6 557,224.1 540.2,240.9 520.9,259.9 500.5,273.1" fill="url(#gDiag)"/>
<polygon points="494.6,257.5 500.5,273.1 498,274 493.5,260" fill="#c8c8c8"/>
<!-- small dark strand near Arg61 -->
<polygon points="621.7,221.9 628.9,220.7 634.9,221.3 639.7,226.7 643.3,233.8 645.7,241 631.3,239.8 624.1,236.2 621.7,231.5" fill="#5e5e5e"/>
<polygon points="621.7,221.9 625.3,221.3 625.3,237.4 620.6,237.4" fill="#dadada"/>
<!-- Arg61 strand -->
<polygon points="605,253.2 631.3,257.9 662.4,263.3 664.8,280.7 640.9,274.7 617,267.5 605,263.9 602,258" fill="url(#gArgS)"/>
<polygon points="661,263.3 663.6,263.3 666.5,280.5 664.5,281" fill="#c8c8c8"/>
<!-- Asp82 strand -->
<polygon points="577.6,274.5 600.9,279.1 630,289 661.4,299.8 664.6,314.1 630,304 600.9,291.8 586.9,286.9" fill="url(#gAspS)"/>
<polygon points="660,299.8 663,300 665,314 662.5,314" fill="#cccccc"/>
<!-- helix -->
<path d="M547.2,303.9 Q547,291 556,288 Q566,286 577,287.2 Q581,288 580.5,289.6 Q573,291 572.2,298 L572.2,303.9 Q574,313 577,319.5 Q583,328 588.9,331.4 Q592,331 594.9,327.8 Q597,318 598.5,314.7 Q601,309 604.5,308.7 Q613,309 622.4,313.5 Q615,320 600.9,331.4 Q594,336 586.5,336.2 Q578,337 566,337 Q553,330 549.6,315.9 Z" fill="url(#gHel2)"/>
<path d="M547.2,303.9 Q547,291 556,288 Q560,287 563,288 Q558,300 560,320 Q562,332 566,337 Q553,330 549.6,315.9 Z" fill="url(#gHel3)"/>
<path d="M572.2,298 Q573,291 580.5,289.6 Q578,300 577,319.5 Q574,313 572.2,303.9 Z" fill="#8a8a8a"/>
<!-- side chains -->
<g fill="none" stroke-linecap="round" stroke-linejoin="round">
<path d="M604.5,253.3 L612,252 L615.2,247.9 M612,252 L615.2,258.1 M623.6,258.7 L630,258.3 L630,246 L637,245" stroke="#8a8a8a" stroke-width="3.2"/>
<path d="M604.5,253.3 L612,252 L615.2,247.9 M612,252 L615.2,258.1 M623.6,258.7 L630,258.3 L630,246 L637,245" stroke="#f0f0f0" stroke-width="1.8"/>
<path d="M597.3,254.5 L604,253.4 M615.2,247.5 L620,242 M615.5,258.1 L623.6,258.7" stroke="#2020e8" stroke-width="3.0"/>
<path d="M588.9,276 L592,281.5 L590,287 M592,281.5 L597,281.8" stroke="#8a8a8a" stroke-width="3.2"/>
<path d="M588.9,276 L592,281.5 L590,287 M592,281.5 L597,281.8" stroke="#f0f0f0" stroke-width="1.8"/>
<path d="M585.3,270.7 L588.5,275.8 M597.3,281.6 L604.5,282.6" stroke="#e03232" stroke-width="3.0"/>
</g>
<g fill="none" stroke="#111" stroke-width="1.1" stroke-dasharray="1.1,1.7">
<path d="M586.5,268.3 L597.3,253.9"/>
<path d="M605.7,279 L615.2,263.5"/>
</g>
<g font-family='"Liberation Sans", sans-serif' fill="#111">
<text x="564.6" y="262.5" font-size="10.5">2.8 Å</text>
<text x="612.8" y="280.8" font-size="10.5">2.8 Å</text>
<text x="582.0" y="303.9" font-size="14.6">Asp82</text>
<text x="648.6" y="240.6" font-size="14.6">Arg61</text>
</g>
</g>

<text x="-1.0" y="9.7" font-size="13.5" font-weight="bold" fill="#000" text-anchor="start" >a</text>
<text x="97.8" y="9.6" font-size="12.1" font-weight="bold" fill="#000" text-anchor="start" stroke="#000" stroke-width="0.12">Variable Heavy (VH)</text>
<text x="325.8" y="9.6" font-size="12.15" font-weight="bold" fill="#000" text-anchor="start" stroke="#000" stroke-width="0.12">Variable Light (VL)</text>
<text x="490.5" y="9.8" font-size="13.5" font-weight="bold" fill="#000" text-anchor="start" >b</text>
<text x="528.3" y="9.8" font-size="12.25" font-weight="bold" fill="#000" text-anchor="start" stroke="#000" stroke-width="0.12">Variable Heavy (VH)</text>
<text x="539.0" y="183.7" font-size="12.2" font-weight="bold" fill="#000" text-anchor="start" stroke="#000" stroke-width="0.12">Variable Light (VL)</text>
<text x="500.3" y="358.8" font-size="12" font-weight="bold" fill="#000" text-anchor="start" >c</text>
<rect x="555.20" y="378.69" width="38.40" height="93.42" fill="#0072BD"/>
<rect x="602.00" y="395.94" width="38.00" height="76.16" fill="#0072BD"/>
<line x1="527.4" y1="361.5" x2="527.4" y2="472.8" stroke="#333333" stroke-width="1.4"/>
<line x1="524.8" y1="472.1" x2="663.5" y2="472.1" stroke="#333333" stroke-width="1.4"/>
<line x1="524.8" y1="472.1" x2="527.4" y2="472.1" stroke="#333333" stroke-width="1.1"/>
<text transform="translate(525.2,475.6) scale(1,1.1)" font-size="9.0" font-weight="normal" fill="#111" text-anchor="end" >0</text>
<line x1="525.6" y1="461.11" x2="527.4" y2="461.11" stroke="#333333" stroke-width="1.1"/>
<line x1="524.8" y1="450.12" x2="527.4" y2="450.12" stroke="#333333" stroke-width="1.1"/>
<text transform="translate(525.2,453.62) scale(1,1.1)" font-size="9.0" font-weight="normal" fill="#111" text-anchor="end" >20</text>
<line x1="525.6" y1="439.13" x2="527.4" y2="439.13" stroke="#333333" stroke-width="1.1"/>
<line x1="524.8" y1="428.14" x2="527.4" y2="428.14" stroke="#333333" stroke-width="1.1"/>
<text transform="translate(525.2,431.64) scale(1,1.1)" font-size="9.0" font-weight="normal" fill="#111" text-anchor="end" >40</text>
<line x1="525.6" y1="417.15" x2="527.4" y2="417.15" stroke="#333333" stroke-width="1.1"/>
<line x1="524.8" y1="406.16" x2="527.4" y2="406.16" stroke="#333333" stroke-width="1.1"/>
<text transform="translate(525.2,409.66) scale(1,1.1)" font-size="9.0" font-weight="normal" fill="#111" text-anchor="end" >60</text>
<line x1="525.6" y1="395.17" x2="527.4" y2="395.17" stroke="#333333" stroke-width="1.1"/>
<line x1="524.8" y1="384.18" x2="527.4" y2="384.18" stroke="#333333" stroke-width="1.1"/>
<text transform="translate(525.2,387.68) scale(1,1.1)" font-size="9.0" font-weight="normal" fill="#111" text-anchor="end" >80</text>
<line x1="525.6" y1="373.19" x2="527.4" y2="373.19" stroke="#333333" stroke-width="1.1"/>
<line x1="524.8" y1="362.2" x2="527.4" y2="362.2" stroke="#333333" stroke-width="1.1"/>
<text transform="translate(525.2,365.7) scale(1,1.1)" font-size="9.0" font-weight="normal" fill="#111" text-anchor="end" >100</text>
<line x1="574.3" y1="472.1" x2="574.3" y2="474.5" stroke="#333333" stroke-width="1.1"/>
<line x1="621.0" y1="472.1" x2="621.0" y2="474.5" stroke="#333333" stroke-width="1.1"/>
<line x1="574.1" y1="363.8" x2="574.1" y2="394.4" stroke="#000" stroke-width="1.4"/>
<line x1="572.4" y1="363.8" x2="575.8000000000001" y2="363.8" stroke="#000" stroke-width="1.3"/>
<line x1="572.4" y1="394.4" x2="575.8000000000001" y2="394.4" stroke="#000" stroke-width="1.3"/>
<line x1="621.0" y1="383.8" x2="621.0" y2="409.5" stroke="#000" stroke-width="1.4"/>
<line x1="619.3" y1="383.8" x2="622.7" y2="383.8" stroke="#000" stroke-width="1.3"/>
<line x1="619.3" y1="409.5" x2="622.7" y2="409.5" stroke="#000" stroke-width="1.3"/>
<circle cx="583.7" cy="363.3" r="1.15" fill="#000"/>
<circle cx="583.7" cy="367.3" r="1.15" fill="#000"/>
<circle cx="583.7" cy="376.0" r="1.15" fill="#000"/>
<circle cx="583.7" cy="380.4" r="1.15" fill="#000"/>
<circle cx="583.7" cy="399.6" r="1.15" fill="#000"/>
<circle cx="630.2" cy="375.2" r="1.15" fill="#000"/>
<circle cx="630.2" cy="396.8" r="1.15" fill="#000"/>
<circle cx="630.2" cy="401.0" r="1.15" fill="#000"/>
<circle cx="630.2" cy="406.0" r="1.15" fill="#000"/>
<text transform="translate(574.3,484.7) scale(1,1.1)" font-size="9.4" font-weight="normal" fill="#111" text-anchor="middle" >3B5H10</text>
<text transform="translate(621.0,484.7) scale(1,1.1)" font-size="9.4" font-weight="normal" fill="#111" text-anchor="middle" >3B5H10</text>
<text transform="translate(620.3,494.9) scale(1,1.1)" font-size="9.4" font-weight="normal" fill="#111" text-anchor="middle" >VL Arg61Glu</text>
<text transform="translate(510.6,413.0) rotate(-90) scale(1,1.12)" font-size="9.25" font-weight="normal" fill="#111" text-anchor="middle" >% Solubility</text>
</g></svg>
</body></html>
